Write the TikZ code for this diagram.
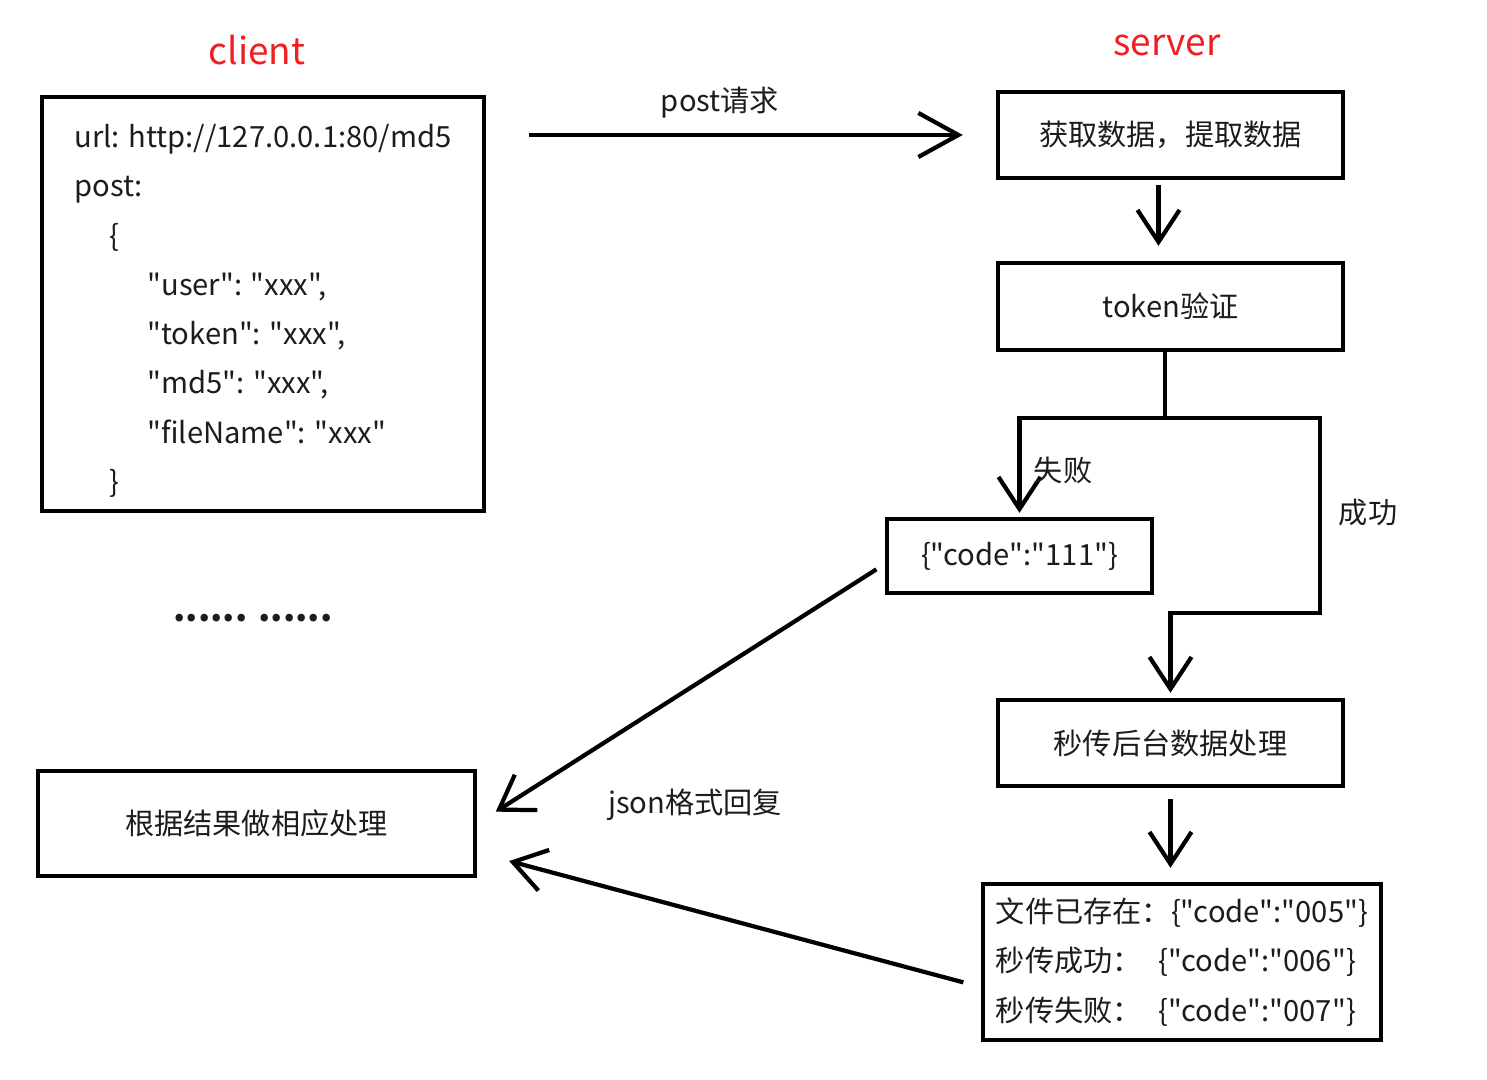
\documentclass[tikz,border=0pt]{standalone}
\usepackage{fontspec}
\setmainfont{Noto Sans CJK SC}[Ligatures=TeXOff]
\usetikzlibrary{arrows.meta}
\definecolor{ink}{HTML}{1C1C1C}
\definecolor{cred}{HTML}{F01E1E}

\begin{document}
\begin{tikzpicture}[
  x=0.01cm, y=-0.01cm,
  font=\fontsize{8.3}{14}\selectfont,
  head/.style={text=cred, font=\fontsize{10.5}{12}\selectfont},
  box/.style={draw=black, line width=1.2pt, inner sep=0pt, text=ink, align=center},
  note/.style={text=ink},
  link/.style={line width=1.2pt},
  flow/.style={link, -{Straight Barb[length=3.2mm, width=4.2mm]}},
]
\useasboundingbox (0,0) rectangle (1487,1080);

% ---------------- the two sides ----------------
\node[head] (clientlbl) at (257,50) {client};
\node[head] (serverlbl) at (1167,45) {server};

% ---------------- the client ----------------
\node[box, align=left, minimum width=4.42cm, minimum height=4.14cm] (req) at (263,304)
  {\rule{0pt}{0.37cm}url: http://127.0.0.1:80/md5\\
   post:\\
   \hspace*{0.35cm}\{\\
   \hspace*{0.73cm}"user": "xxx",\\
   \hspace*{0.73cm}"token": "xxx",\\
   \hspace*{0.73cm}"md5": "xxx",\\
   \hspace*{0.73cm}"fileName": "xxx"\\
   \hspace*{0.35cm}\}};
\node[note, font=\fontsize{10}{12}\selectfont\bfseries] (dots) at (253,618) {...... ......};
\node[box, minimum width=4.37cm, minimum height=1.05cm] (handle) at (256.5,823.5) {根据结果做相应处理};

% ---------------- the server ----------------
\node[box, minimum width=3.45cm, minimum height=0.86cm] (fetch) at (1170.5,135) {获取数据，提取数据};
\node[box, minimum width=3.45cm, minimum height=0.87cm] (tok) at (1170.5,306.5) {token验证};
\node[box, minimum width=2.65cm, minimum height=0.74cm] (fail) at (1019.5,556) {\{"code":"111"\}};
\node[box, minimum width=3.45cm, minimum height=0.86cm] (proc) at (1170.5,743) {秒传后台数据处理};
\node[box, align=left, minimum width=3.98cm, minimum height=1.56cm] (res) at (1182,962)
  {文件已存在：\{"code":"005"\}\\
   秒传成功：\hspace{0.17cm}\{"code":"006"\}\\
   秒传失败：\hspace{0.17cm}\{"code":"007"\}};
\coordinate (split) at (1165,418);
\coordinate (turn) at (1320,613);

% ---------------- the request ----------------
\draw[flow, -{Straight Barb[length=4mm, width=4.4mm]}, shorten <=0.43cm, shorten >=0.33cm]
  (req.east |- fetch.west) -- (fetch.west);
\node[note] (postlbl) at (720,103) {post请求};

% ---------------- the checks ----------------
\draw[flow, shorten <=0.05cm, shorten >=0.15cm] ([xshift=-0.12cm]fetch.south) -- ([xshift=-0.12cm]tok.north);
\draw[link] (tok.south -| split) -- (split);
\draw[flow, shorten >=0.04cm] (split) -| (fail.north);
\draw[flow, shorten >=0.05cm] (split) -| (turn) -| (proc.north);
\node[note] (faillbl) at (1063,470) {失败};
\node[note] (oklbl) at (1368,513) {成功};
\draw[flow, shorten <=0.11cm, shorten >=0.14cm] (proc.south) -- (proc.south |- res.north);

% ---------------- the replies ----------------
\draw[flow, shorten <=0.1cm, shorten >=0.22cm] ([yshift=-0.08cm]fail.west) -- (handle.east);
\draw[flow, shorten <=0.18cm, shorten >=0.33cm] ([yshift=-0.25cm]res.west) -- ([yshift=-0.29cm]handle.east);
\node[note] (jsonlbl) at (695,805) {json格式回复};

\end{tikzpicture}
\end{document}
